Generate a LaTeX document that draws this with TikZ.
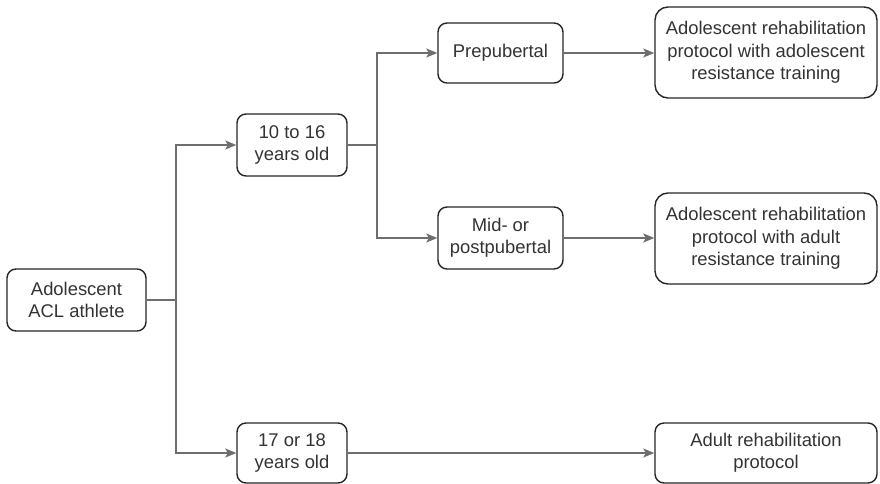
\documentclass[tikz,border=0pt]{standalone}
\usepackage{fontspec}
\setmainfont{Liberation Sans}
\usetikzlibrary{arrows.meta}
\definecolor{boxline}{HTML}{262626}
\definecolor{txt}{HTML}{333333}
\definecolor{wire}{HTML}{6E6E6E}
\begin{document}
\begin{tikzpicture}[x=1pt,y=-1pt,
  box/.style={draw=boxline, line width=1.4pt, rounded corners=9pt, fill=white,
    text=txt, align=center, inner sep=0pt,
    font=\fontsize{18.4}{22.3}\selectfont},
  bigbox/.style={box, rounded corners=13pt},
  arr/.style={draw=wire, line width=1.3pt,
    -{Stealth[length=11pt,width=9pt,inset=2.5pt]}},
  wireline/.style={draw=wire, line width=1.3pt}]
\useasboundingbox (0,0) rectangle (880,484);

% decision tree nodes
\node[box, minimum width=139pt, minimum height=62pt] (A) at (76.5,300) {Adolescent\\ACL athlete};
\node[box, minimum width=110pt, minimum height=62pt] (B) at (292,145) {10 to 16\\years old};
\node[box, minimum width=110pt, minimum height=60pt] (C) at (292,453) {17 or 18\\years old};
\node[box, minimum width=125pt, minimum height=60pt] (D) at (500.5,53) {Prepubertal};
\node[box, minimum width=125pt, minimum height=62pt] (E) at (500.5,238) {Mid- or\\postpubertal};
\node[bigbox, minimum width=222pt, minimum height=91pt] (F) at (766,52.5) {Adolescent rehabilitation\\protocol with adolescent\\resistance training};
\node[bigbox, minimum width=222pt, minimum height=91pt] (G) at (766,238.5) {Adolescent rehabilitation\\protocol with adult\\resistance training};
\node[box, minimum width=222pt, minimum height=60pt] (H) at (766,453) {Adult rehabilitation\\protocol};

% branch points
\coordinate (j1) at (176,300);
\coordinate (j2) at (377,145);

% connectors
\draw[wireline] (A.east) -- (j1);
\draw[arr] (j1) |- (B.west);
\draw[arr] (j1) |- (C.west);
\draw[wireline] (B.east) -- (j2);
\draw[arr] (j2) |- (D.west);
\draw[arr] (j2) |- (E.west);
\draw[arr] (D.east) -- (D.east -| F.west);
\draw[arr] (E.east) -- (E.east -| G.west);
\draw[arr] (C.east) -- (C.east -| H.west);
\end{tikzpicture}
\end{document}
